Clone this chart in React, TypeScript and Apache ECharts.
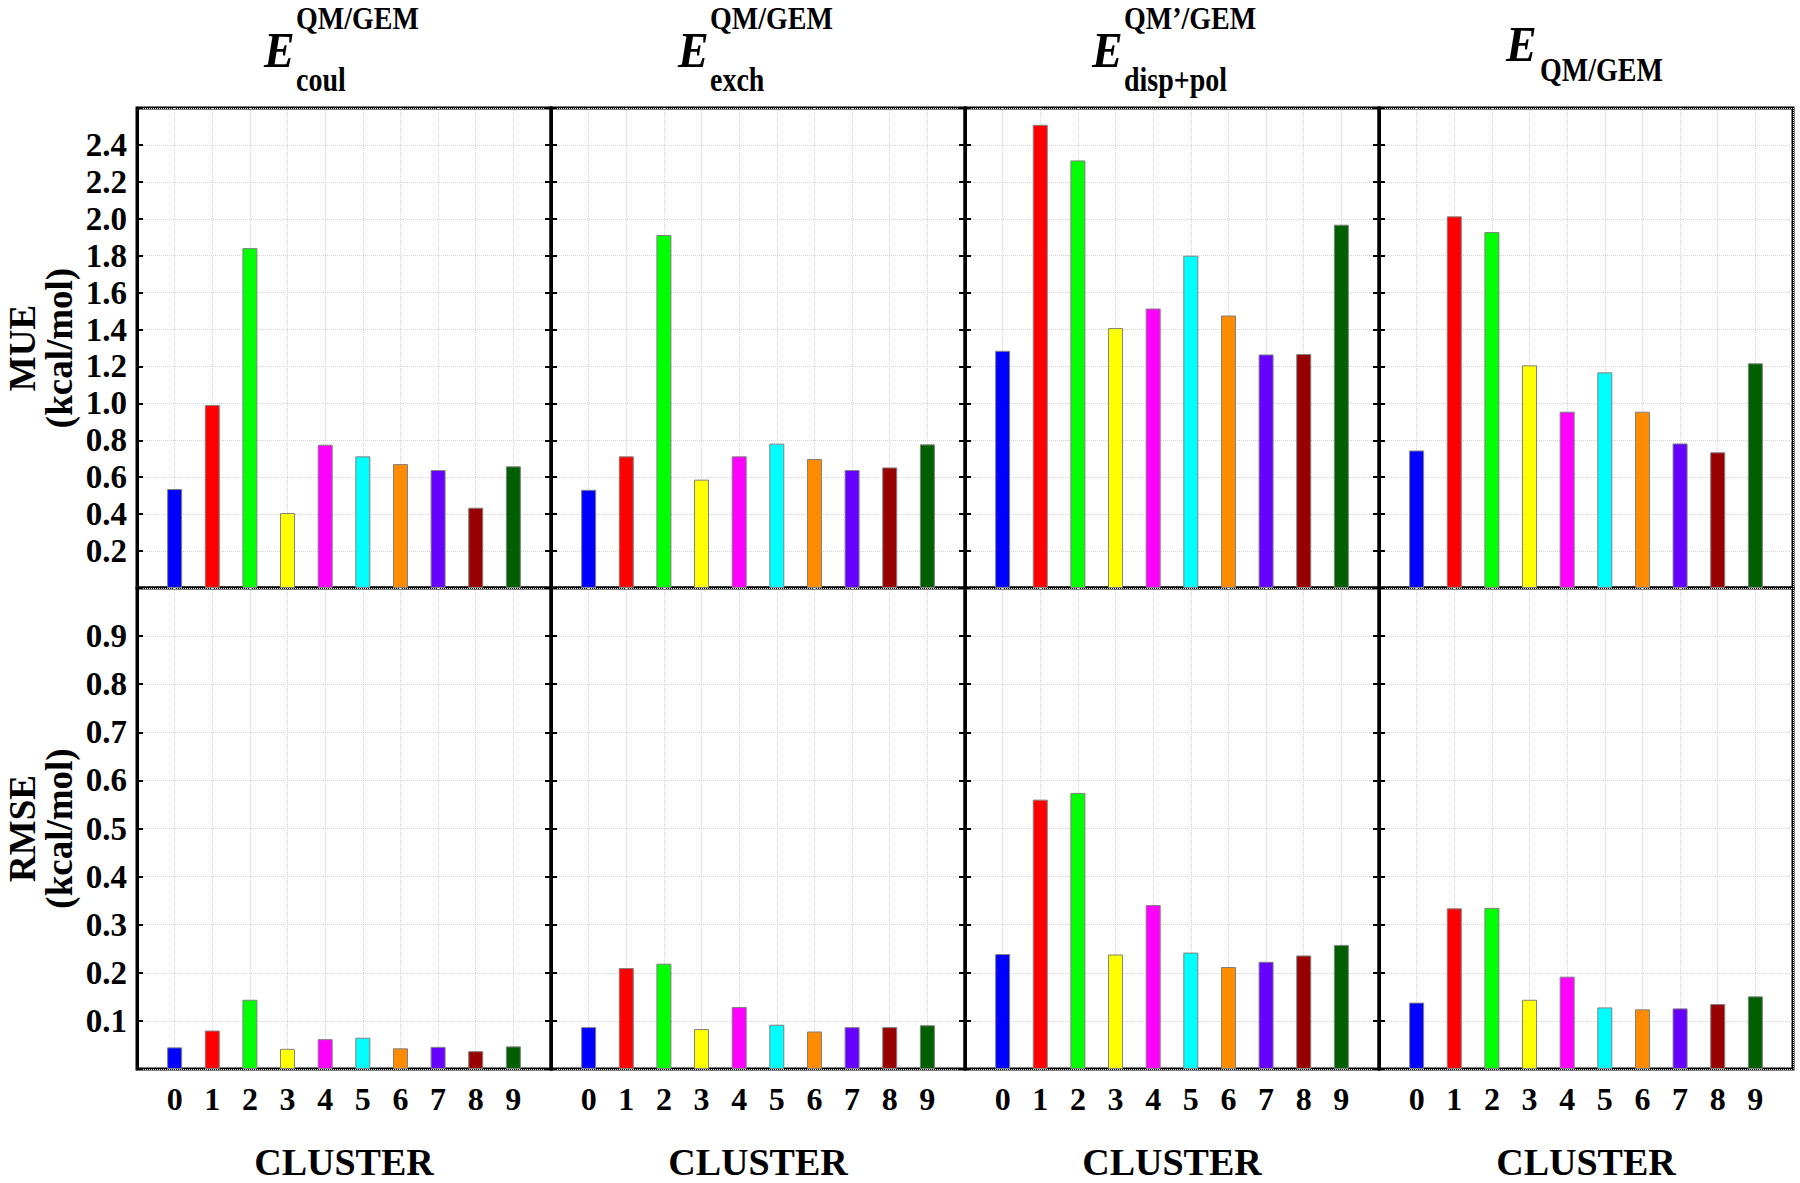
import React, { useEffect, useRef } from "react";
import * as echarts from "echarts";

const categories = ["0", "1", "2", "3", "4", "5", "6", "7", "8", "9"];
const barColors = ["#0000FF", "#FF0000", "#00FF00", "#FFFF00", "#FF00FF", "#00FFFF", "#FF8C00", "#6600FF", "#990000", "#006000"];

const mueCoul = [0.536, 0.991, 1.841, 0.406, 0.776, 0.713, 0.671, 0.639, 0.435, 0.659];
const mueExch = [0.532, 0.713, 1.912, 0.587, 0.713, 0.782, 0.699, 0.639, 0.653, 0.778];
const mueDispPol = [1.285, 2.509, 2.316, 1.408, 1.514, 1.8, 1.476, 1.265, 1.267, 1.968];
const mueTotal = [0.745, 2.013, 1.928, 1.206, 0.955, 1.168, 0.955, 0.783, 0.735, 1.217];

const rmseCoul = [0.045, 0.08, 0.144, 0.042, 0.062, 0.065, 0.043, 0.046, 0.037, 0.047];
const rmseExch = [0.087, 0.21, 0.219, 0.083, 0.129, 0.092, 0.078, 0.087, 0.087, 0.091];
const rmseDispPol = [0.239, 0.56, 0.574, 0.238, 0.341, 0.242, 0.212, 0.223, 0.236, 0.258];
const rmseTotal = [0.138, 0.334, 0.335, 0.144, 0.192, 0.128, 0.124, 0.126, 0.135, 0.151];

const mueTicks = { min: 0, max: 2.6, interval: 0.2 };
const rmseTicks = { min: 0, max: 1.0, interval: 0.1 };

const titleSup = ["QM/GEM", "QM/GEM", "QM\u2019/GEM", ""];
const titleSub = ["coul", "exch", "disp+pol", "QM/GEM"];
const rowNames = ["MUE\n(kcal/mol)", "RMSE\n(kcal/mol)"];
const xTitle = "CLUSTER";

const mueSeries = [mueCoul, mueExch, mueDispPol, mueTotal];
const rmseSeries = [rmseCoul, rmseExch, rmseDispPol, rmseTotal];

const FONT = "'Liberation Serif', 'Times New Roman', serif";

export default function App() {
  const ref = useRef<HTMLDivElement>(null);
  useEffect(() => {
    document.body.style.margin = "0";
    if (!ref.current) return;
    const chart = echarts.init(ref.current, null, { renderer: "svg" });

    const panelLeft = [137, 551, 965, 1379];
    const panelW = 414;
    const rowTop = [108, 588];
    const rowH = [480, 481];

    const grids: any[] = [];
    const xAxes: any[] = [];
    const yAxes: any[] = [];
    const series: any[] = [];
    const graphics: any[] = [];

    for (let r = 0; r < 2; r++) {
      const ticks = r === 0 ? mueTicks : rmseTicks;
      const dataSet = r === 0 ? mueSeries : rmseSeries;
      for (let c = 0; c < 4; c++) {
        const gi = grids.length;
        grids.push({
          left: panelLeft[c],
          top: rowTop[r],
          width: panelW,
          height: rowH[r],
          show: true,
          borderColor: "#000",
          borderWidth: 3,
          backgroundColor: "#fff",
        });
        xAxes.push({
          type: "value",
          gridIndex: gi,
          min: -1,
          max: 10,
          interval: 1,
          axisLine: { show: false, onZero: false },
          axisTick: { show: false },
          axisLabel: {
            show: r === 1,
            fontFamily: FONT,
            fontWeight: "bold",
            fontSize: 32,
            color: "#000",
            margin: 14,
            formatter: (v: number) => (v >= 0 && v <= 9 ? categories[Math.round(v)] : ""),
          },
          splitLine: { show: true, lineStyle: { type: "dotted", color: "#d4d4d4", width: 1 } },
        });
        const yIdx = yAxes.length;
        yAxes.push({
          type: "value",
          gridIndex: gi,
          position: "left",
          min: ticks.min,
          max: ticks.max,
          interval: ticks.interval,
          axisLine: { show: true, onZero: false, lineStyle: { color: "#000", width: 3 } },
          axisTick: { show: true, inside: true, length: 6, lineStyle: { color: "#000", width: 2 } },
          axisLabel: {
            show: c === 0,
            fontFamily: FONT,
            fontWeight: "bold",
            fontSize: 33,
            color: "#000",
            margin: 10,
            formatter: (v: number) =>
              v < ticks.interval / 2 || v > ticks.max - ticks.interval / 2 ? "" : v.toFixed(1),
          },
          splitLine: { show: true, lineStyle: { type: "dotted", color: "#d4d4d4", width: 1 } },
        });
        if (c < 3) {
          yAxes.push({
            type: "value",
            gridIndex: gi,
            position: "right",
            min: ticks.min,
            max: ticks.max,
            interval: ticks.interval,
            axisLine: { show: true, onZero: false, lineStyle: { color: "#000", width: 3 } },
            axisTick: { show: true, inside: true, length: 6, lineStyle: { color: "#000", width: 2 } },
            axisLabel: { show: false },
            splitLine: { show: false },
          });
        }
        series.push({
          type: "bar",
          xAxisIndex: gi,
          yAxisIndex: yIdx,
          barWidth: 15,
          itemStyle: { borderColor: "#808080", borderWidth: 1 },
          data: dataSet[c].map((v, j) => ({ value: [j, v], itemStyle: { color: barColors[j] } })),
        });
      }
    }

    const txt = (x: number, y: number, text: string, font: string, align: string, sy = 1) => ({
      type: "text",
      x,
      y,
      scaleY: sy,
      style: {
        text,
        font,
        fill: "#000",
        textAlign: align,
        textVerticalAlign: "middle",
        align,
        verticalAlign: "middle",
      },
    });

    // Column titles
    for (let c = 0; c < 4; c++) {
      const ex = panelLeft[c] + 127;
      const last = c === 3;
      graphics.push(txt(ex, last ? 44 : 50, "E", `italic bold 46px ${FONT}`, "left", 1.1));
      if (titleSup[c]) {
        graphics.push(txt(ex + 32, 19, titleSup[c], `bold 28px ${FONT}`, "left", 1.1));
      }
      graphics.push(txt(ex + (last ? 34 : 32), last ? 70 : 80, titleSub[c], `bold 28px ${FONT}`, "left", 1.2));
      graphics.push(txt(panelLeft[c] + panelW / 2, 1162, xTitle, `bold 38px ${FONT}`, "center", 1));
    }

    // Row titles
    for (let r = 0; r < 2; r++) {
      graphics.push({
        type: "text",
        x: 41,
        y: rowTop[r] + rowH[r] / 2,
        rotation: Math.PI / 2,
        style: {
          text: rowNames[r],
          font: `bold 37px ${FONT}`,
          lineHeight: 37,
          fill: "#000",
          textAlign: "center",
          textVerticalAlign: "middle",
          align: "center",
          verticalAlign: "middle",
        },
      });
    }

    chart.setOption({
      animation: false,
      backgroundColor: "#fff",
      grid: grids,
      xAxis: xAxes,
      yAxis: yAxes,
      series,
      graphic: graphics,
    });
    return () => chart.dispose();
  }, []);
  return <div ref={ref} style={{ width: 1800, height: 1183 }} />;
}
